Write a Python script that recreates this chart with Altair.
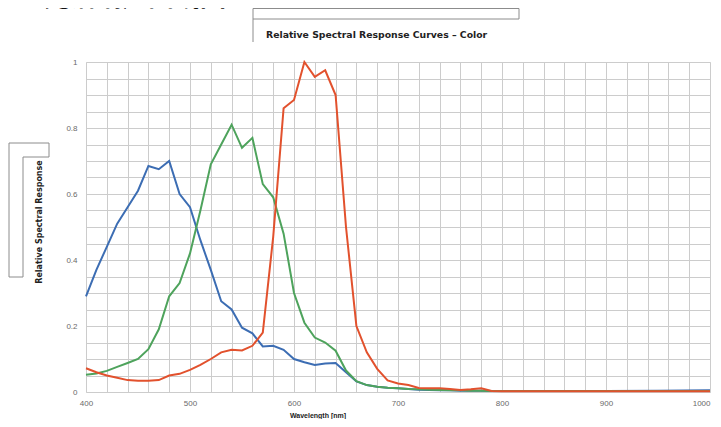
import altair as alt
import pandas as pd

# ---- data ----
wavelength = list(range(400, 801, 10)) + [850, 900, 950, 1000]

blue = [0.29, 0.37, 0.44, 0.51, 0.56, 0.61, 0.685, 0.675, 0.70, 0.60,
        0.56, 0.46, 0.37, 0.275, 0.25, 0.195, 0.178, 0.138, 0.14, 0.128,
        0.10, 0.09, 0.082, 0.086, 0.088, 0.06, 0.032, 0.021, 0.016, 0.013,
        0.011, 0.009, 0.007, 0.006, 0.005, 0.005, 0.004, 0.004, 0.004, 0.003,
        0.003, 0.003, 0.003, 0.004, 0.005]

green = [0.052, 0.056, 0.064, 0.076, 0.088, 0.10, 0.13, 0.19, 0.29, 0.33,
         0.42, 0.55, 0.69, 0.75, 0.81, 0.74, 0.77, 0.63, 0.59, 0.48,
         0.30, 0.21, 0.165, 0.15, 0.125, 0.065, 0.033, 0.021, 0.016, 0.013,
         0.011, 0.009, 0.008, 0.007, 0.006, 0.005, 0.005, 0.004, 0.004, 0.003,
         0.003, 0.003, 0.003, 0.003, 0.003]

red = [0.072, 0.06, 0.05, 0.043, 0.036, 0.034, 0.034, 0.036, 0.05, 0.055,
       0.067, 0.082, 0.10, 0.12, 0.128, 0.126, 0.14, 0.18, 0.47, 0.86,
       0.885, 1.0, 0.955, 0.975, 0.90, 0.50, 0.20, 0.12, 0.07, 0.035,
       0.026, 0.021, 0.012, 0.011, 0.011, 0.009, 0.006, 0.008, 0.011, 0.003,
       0.002, 0.002, 0.002, 0.002, 0.002]

series_names = ["Blue", "Green", "Red"]
series_colors = ["#3c6db3", "#4ea35c", "#e2512d"]

chart_title = "Relative Spectral Response Curves \u2013 Color"
y_title = "Relative Spectral Response"
x_title = "Wavelength [nm]"
page_title = "光谱响应曲线图"

x_ticks = list(range(400, 1001, 20))
y_ticks = [round(i * 0.05, 2) for i in range(21)]

rows = []
for name, vals in zip(series_names, [blue, green, red]):
    for w, v in zip(wavelength, vals):
        rows.append({"wavelength": w, "response": v, "series": name})
df = pd.DataFrame(rows)

W, H = 624, 330

x_enc = alt.X(
    "wavelength:Q",
    scale=alt.Scale(domain=[400, 1000], nice=False, zero=False),
    axis=alt.Axis(
        values=x_ticks,
        labelExpr="datum.value % 100 == 0 ? format(datum.value, 'd') : ''",
        labelAlign=alt.ExprRef(expr="datum.value >= 1000 ? 'right' : 'center'"),
        title=None, grid=True, gridColor="#cccccc", gridWidth=1,
        ticks=False, domain=False, labelColor="#6a6a6a", labelFontSize=8,
        labelFont="Liberation Sans", labelPadding=7, labelFlush=False,
        labelBound=False,
    ),
)
y_enc = alt.Y(
    "response:Q",
    scale=alt.Scale(domain=[0, 1], nice=False),
    axis=alt.Axis(
        values=y_ticks,
        labelExpr="(round(datum.value*100) % 20 == 0) ? format(datum.value, '~g') : ''",
        title=None, grid=True, gridColor="#cccccc", gridWidth=1,
        ticks=False, domain=False, labelColor="#6a6a6a", labelFontSize=8,
        labelFont="Liberation Sans", labelPadding=9, labelFlush=False,
    ),
)

lines = alt.Chart(df).mark_line(strokeWidth=2, interpolate="linear").encode(
    x=x_enc,
    y=y_enc,
    color=alt.Color("series:N", scale=alt.Scale(domain=series_names, range=series_colors), legend=None),
    order=alt.Order("wavelength:Q"),
    detail="series:N",
)

# ---- text annotations (pixel positions relative to plot area) ----
title_txt = alt.Chart(pd.DataFrame({"t": [chart_title]})).mark_text(
    align="left", baseline="middle", fontSize=9.3, fontWeight="bold",
    font="DejaVu Sans", color="#222222"
).encode(text="t:N", x=alt.value(180), y=alt.value(-27))

ytitle_txt = alt.Chart(pd.DataFrame({"t": [y_title]})).mark_text(
    align="center", baseline="middle", fontSize=8, fontWeight="bold",
    font="DejaVu Sans", color="#222222", angle=270
).encode(text="t:N", x=alt.value(-46), y=alt.value(160))

xtitle_txt = alt.Chart(pd.DataFrame({"t": [x_title]})).mark_text(
    align="center", baseline="middle", fontSize=7, fontWeight="bold",
    font="Liberation Sans", color="#222222"
).encode(text="t:N", x=alt.value(232), y=alt.value(354))

page_txt = alt.Chart(pd.DataFrame({"t": [page_title]})).mark_text(
    align="center", baseline="alphabetic", fontSize=26, fontWeight="bold",
    font="Noto Sans CJK SC", color="#111111"
).encode(text="t:N", x=alt.value(49), y=alt.value(-56))

# ---- decorative outline boxes ----
deco_style = dict(color="#8c8c8c", strokeWidth=1)

def seg(x1, y1, x2, y2):
    return alt.Chart(pd.DataFrame({"k": [0]})).mark_rule(**deco_style).encode(
        x=alt.value(x1), y=alt.value(y1), x2=alt.value(x2), y2=alt.value(y2)
    )

deco = [
    # top box with stem
    seg(167, -53.5, 433, -53.5),
    seg(433, -53.5, 433, -43),
    seg(167, -43, 433, -43),
    seg(167, -53.5, 167, -20),
    # left L-shaped outline
    seg(-77, 81, -37, 81),
    seg(-37, 81, -37, 95),
    seg(-37, 95, -63, 95),
    seg(-63, 95, -63, 215),
    seg(-63, 215, -77, 215),
    seg(-77, 215, -77, 81),
]

chart = alt.layer(lines, title_txt, ytitle_txt, xtitle_txt, page_txt, *deco).properties(
    width=W, height=H,
    autosize=alt.AutoSizeParams(type="none"),
    padding={"left": 78, "top": 54, "right": 3, "bottom": 27},
).configure_view(
    stroke="#9a9a9a", strokeWidth=1.5
).configure(background="white")

chart.save("out.html", embed_options={"renderer": "svg", "actions": False})
